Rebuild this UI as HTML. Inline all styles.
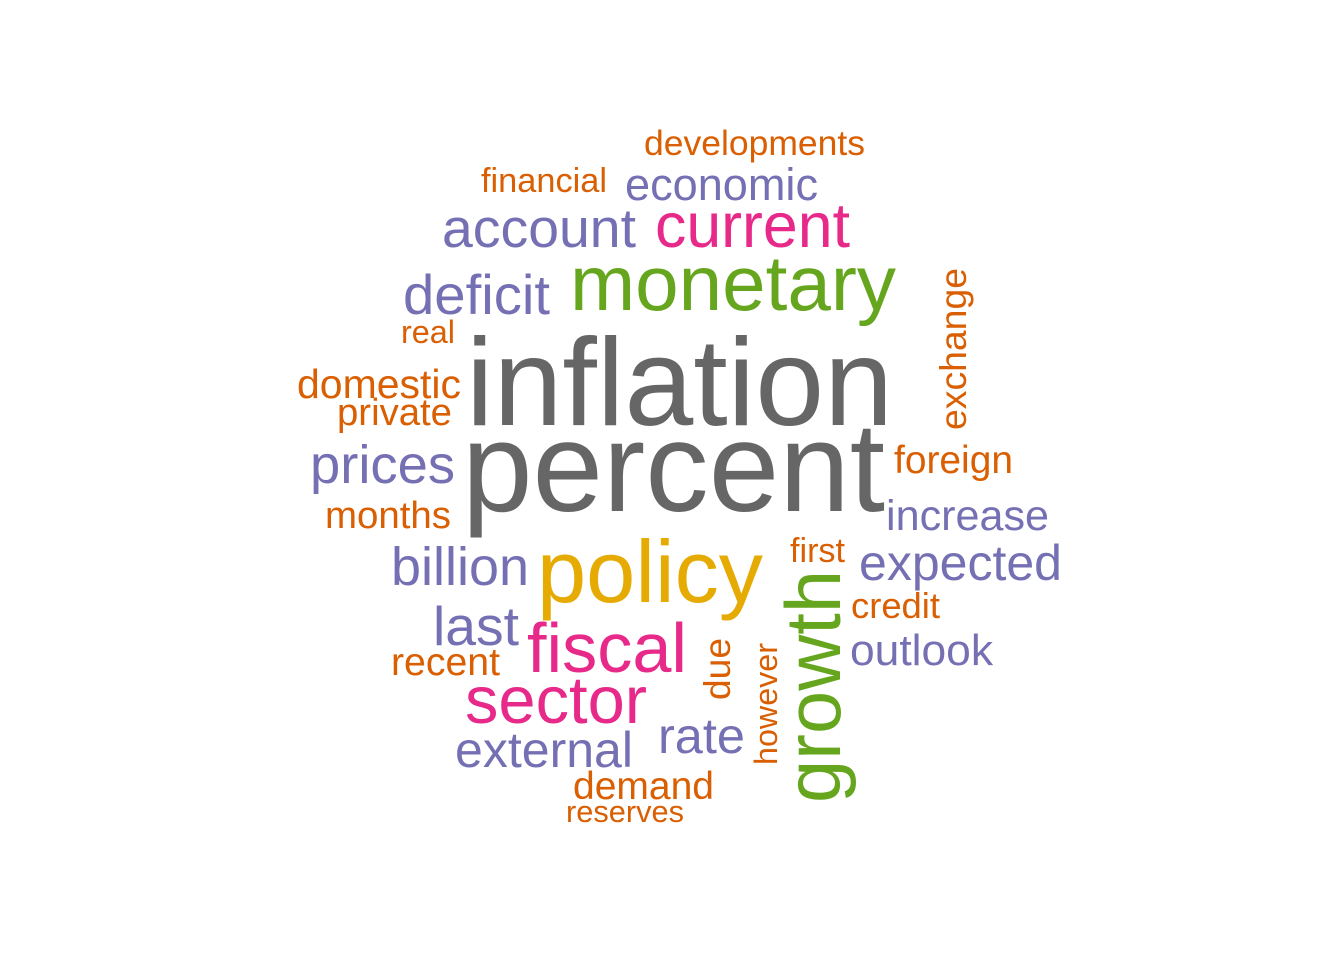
<!DOCTYPE html>
<html><head><meta charset="utf-8"><style>
html,body{margin:0;padding:0;background:#fff}
svg text{font-family:"Liberation Sans",Arial,sans-serif}
</style></head><body>
<svg id="cloud" width="1344" height="960" xmlns="http://www.w3.org/2000/svg">
<rect width="1344" height="960" fill="#fff"/>
</svg>
<script>
const words = ["developments","financial","economic","account","current","monetary","deficit","real","exchange","domestic","private","prices","foreign","months","increase","first","billion","policy","expected","credit","growth","last","fiscal","outlook","recent","due","however","sector","rate","external","demand","reserves","inflation","percent"];
const sizes = [35,34,45,55,63,78,56,32,37,41,38,54,39,38,43,34,54,88,50,36,78,55,70,44,39,37,32,67,50,50,39,31,124,127];
const groups = ["o","o","p","p","k","g","p","o","o","o","o","p","o","o","p","o","p","y","p","o","g","p","k","p","o","o","o","k","p","p","o","o","d","d"];
const rotated = [0,0,0,0,0,0,0,0,1,0,0,0,0,0,0,0,0,0,0,0,1,0,0,0,0,1,1,0,0,0,0,0,0,0];
// layout: anchor x, baseline y, rendered extent
const layoutX = [644,481,625,442,655,570,403,401,966,297,337,310,894,325,886,790,391,537,859,851,840,433,527,850,391,730,777,465,658,455,573,566,466,462];
const layoutY = [155,192,200,247,247,310,314,343,430,398,425,483,473,528,530,562,585,602,580,618,803,645,672,665,675,700,765,723,753,767,799,822,425,511];
const extent = [221,126,193,194,195,326,147,54,162,164,115,145,119,126,163,55,138,226,203,89,233,86,160,143,109,62,122,182,87,178,141,118,427,423];
const palette = {o:"#D95F02",p:"#7570B3",k:"#E7298A",g:"#66A61E",y:"#E6AB02",d:"#666666"};
const svg = document.getElementById('cloud');
words.forEach((w,i)=>{
  const t = document.createElementNS('http://www.w3.org/2000/svg','text');
  
  
  t.setAttribute('x', layoutX[i]);
  t.setAttribute('y', layoutY[i]);
  t.setAttribute('font-size', sizes[i]);
  t.setAttribute('fill', palette[groups[i]]);
  t.setAttribute('textLength', extent[i]);
  t.setAttribute('lengthAdjust', 'spacingAndGlyphs');
  if (rotated[i]) t.setAttribute('transform', 'rotate(-90 ' + layoutX[i] + ' ' + layoutY[i] + ')');
  t.textContent = w;
  svg.appendChild(t);
});
</script>
</body></html>
